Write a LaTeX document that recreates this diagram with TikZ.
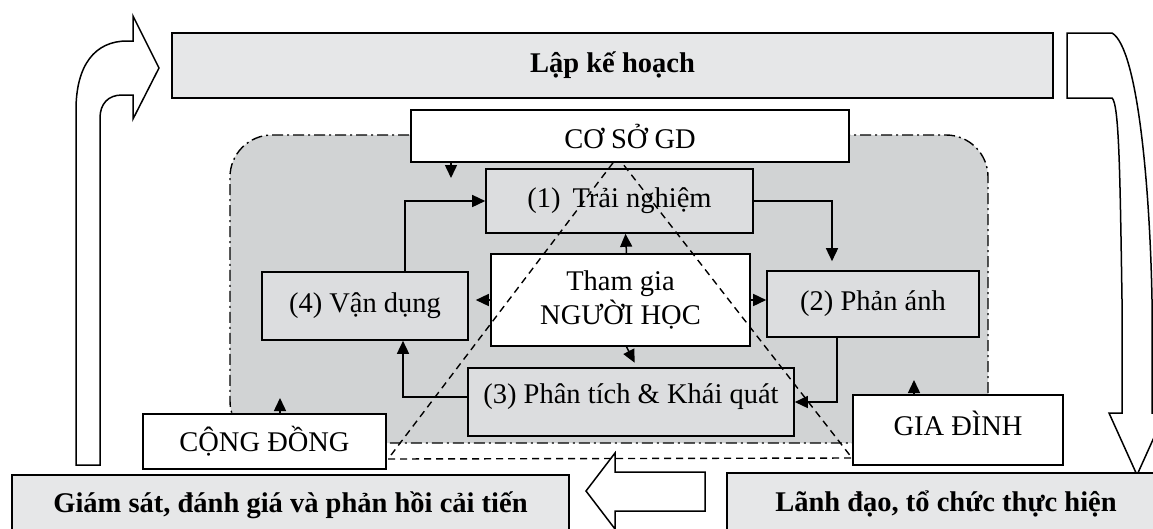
\documentclass[tikz,border=0pt]{standalone}
\usepackage{fontspec}
\setmainfont{Liberation Serif}
\usetikzlibrary{arrows.meta}
\definecolor{barfill}{HTML}{E6E7E8}
\definecolor{zone}{HTML}{D1D3D4}
\definecolor{stepfill}{HTML}{DCDDDF}
\begin{document}
\begin{tikzpicture}[x=1pt,y=-1pt,
  box/.style={draw, line width=1.6pt, inner sep=0pt, align=center,
    font=\fontsize{28.5}{34}\selectfont},
  bar/.style={box, fill=barfill, font=\bfseries\fontsize{28.5}{34}\selectfont},
  stepbox/.style={box, fill=stepfill},
  whitebox/.style={box, fill=white},
  arr/.style={line width=1.5pt, -{Triangle[length=13pt,width=12pt]}},
  hollow/.style={draw, line width=1.5pt, fill=white, line join=miter},
  zoneline/.style={line width=1.4pt, dash pattern=on 11pt off 4pt on 2pt off 4pt},
  tri/.style={line width=1.4pt, dash pattern=on 7pt off 5pt}]
\useasboundingbox (0,0) rectangle (1153,528);
\clip (0,0) rectangle (1153,528);
% shaded zone
\path[fill=zone, draw, zoneline, rounded corners=42pt] (230,300) -- (230,135) -- (988,135) -- (988,443) -- (230,443) -- cycle;
% top bar
\node[bar, minimum width=881pt, minimum height=65pt] (plan) at (612.5,65.5) {Lập kế hoạch};
% left curved arrow
\draw[hollow] (76,465) -- (76,110) .. controls (76,65) and (95,41) .. (127,41) -- (133,41)
  -- (133,16) -- (159,68) -- (133,119) -- (133,95) -- (122,95)
  .. controls (108,95) and (100,104) .. (100,118) -- (100,465) -- cycle;
% right curved arrow
\draw[hollow] (1067,33) -- (1112,33) .. controls (1138,48) and (1150,190) .. (1152,300)
  -- (1152,413) -- (1165,413) -- (1137,475) -- (1109,413) -- (1122,413) -- (1122,300)
  .. controls (1120,170) and (1119,104) .. (1112,98) -- (1067,98) -- cycle;
% bottom hollow arrow
\draw[hollow] (705,472) -- (615,472) -- (615,453) -- (586,491) -- (615,529) -- (615,511) -- (705,511) -- cycle;
% boxes
\node[whitebox, minimum width=438pt, minimum height=52pt] (cs) at (630,136) {CƠ SỞ GD};
\node[stepbox, minimum width=267pt, minimum height=64pt] (n1) at (619.5,201) {(1)\, Trải nghiệm};
\node[whitebox, minimum width=259pt, minimum height=92pt] (ng) at (620.5,300) {Tham gia\\NGƯỜI HỌC};
\node[stepbox, minimum width=206pt, minimum height=68pt] (n4) at (365,306) {(4) Vận dụng};
\node[stepbox, minimum width=212pt, minimum height=66pt] (n2) at (873,304) {(2) Phản ánh};
\node[stepbox, minimum width=326pt, minimum height=68pt] (n3) at (631,402) {\raisebox{17pt}{(3) Phân tích \& Khái quát}};
\node[whitebox, minimum width=243pt, minimum height=55pt] (cd) at (264.5,441.5) {CỘNG ĐỒNG};
\node[whitebox, minimum width=210pt, minimum height=70pt] (gd) at (958,430) {\raisebox{14pt}{GIA ĐÌNH}};
\node[bar, minimum width=557pt, minimum height=60pt] (gs) at (290.5,505) {Giám sát, đánh giá và phản hồi cải tiến};
\node[bar, minimum width=443pt, minimum height=62pt] (ld) at (948.5,504) {\hspace*{-5pt}Lãnh đạo, tổ chức thực hiện};
% free-end coordinates
\coordinate (csend) at (451,178);
\coordinate (cdend) at (280,398);
\coordinate (gdend) at (914,380);
% connectors
\draw[arr] ([xshift=-179pt]cs.south) -- (csend);
\draw[arr] ([xshift=40pt]n4.north) |- (n1.west);
\draw[arr, shorten >=9pt] (n1.east) -| ([xshift=-41pt]n2.north);
\draw[arr] ([xshift=-36pt]n2.south) |- (n3.east);
\draw[arr] ([yshift=5pt]n3.west) -| ([xshift=38pt]n4.south);
\draw[arr] ([xshift=6pt]ng.north) -- ([xshift=6pt]n1.south);
\draw[arr, shorten >=5pt] ([xshift=6pt]ng.south) -- ([xshift=6pt]n3.north);
\draw[arr, shorten >=7pt] (ng.west) -- (n4.east |- ng.west);
\draw[arr] (ng.east) -- (n2.west |- ng.east);
\draw[arr] ([xshift=15.5pt]cd.north) -- (cdend);
\draw[arr] ([xshift=-44pt]gd.north) -- (gdend);
% dashed triangle
\coordinate (tl) at (388,459);
\coordinate (tr) at (852,458);
\draw[tri] ([xshift=-17pt]cs.south) -- (tl) -- (tr) -- ([xshift=-8pt]cs.south);
\end{tikzpicture}
\end{document}
